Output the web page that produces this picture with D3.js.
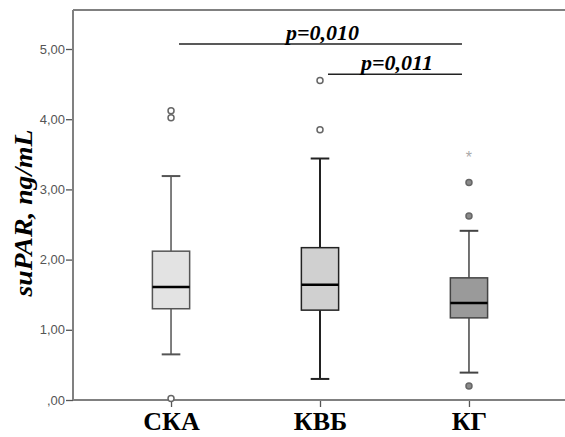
<!DOCTYPE html>
<html>
<head>
<meta charset="utf-8">
<script src="https://cdn.jsdelivr.net/npm/d3@7"></script>
<style>
  body { margin: 0; background: #fff; }
</style>
</head>
<body>
<div id="chart"></div>
<script>
// Data
const groups = ["СКА", "КВБ", "КГ"];
const q1 = [1.30, 1.28, 1.17];
const medians = [1.61, 1.64, 1.38];
const q3 = [2.12, 2.17, 1.74];
const whiskerLow = [0.65, 0.30, 0.39];
const whiskerHigh = [3.19, 3.44, 2.41];
const outliers = [[4.12, 4.02, 0.02], [4.55, 3.85], [3.10, 2.62, 0.20]];
const extremes = [[], [], [3.47]];
const yTicks = [0, 1, 2, 3, 4, 5];
const pairs = [
    { from: "СКА", to: "КГ", level: 5.07, label: "p=0,010" },
    { from: "КВБ", to: "КГ", level: 4.64, label: "p=0,011" }
];

const fills = ["#e3e3e3", "#d0d0d0", "#9a9a9a"];
const strokes = ["#555", "#222", "#444"];

const width = 565, height = 437;
const margin = { top: 10, right: -2, bottom: 37, left: 73 };

const svg = d3.select("#chart")
    .append("svg")
    .attr("width", width)
    .attr("height", height);

// Scales
const x = d3.scalePoint()
    .domain(groups)
    .range([margin.left, width - margin.right])
    .padding(0.658);

const y = d3.scaleLinear()
    .domain([0, 5])
    .range([height - margin.bottom, height - margin.bottom - 351]);

const boxW = x.step() * 0.25;
const capW = boxW / 2;

// Frame: top line, left axis, bottom axis
svg.append("line")
    .attr("x1", margin.left).attr("x2", width + 5)
    .attr("y1", margin.top).attr("y2", margin.top)
    .attr("stroke", "#808080").attr("stroke-width", 2);

const yAxis = svg.append("g")
    .attr("transform", `translate(${margin.left},0)`)
    .call(d3.axisLeft(y).tickValues(yTicks).tickSize(7)
        .tickFormat(d => d === 0 ? ",00" : d3.format(".2f")(d).replace(".", ",")));
yAxis.select(".domain").remove();
yAxis.selectAll(".tick line").attr("stroke", "#555").attr("stroke-width", 1.3);
yAxis.selectAll("text")
    .attr("x", -8)
    .attr("fill", "#555")
    .style("font-family", "'Liberation Sans', Arial, sans-serif")
    .style("font-size", "13px");

svg.append("line")
    .attr("x1", margin.left).attr("x2", margin.left)
    .attr("y1", margin.top).attr("y2", y(0))
    .attr("stroke", "#808080").attr("stroke-width", 2);

const xAxis = svg.append("g")
    .attr("transform", `translate(0,${y(0)})`)
    .call(d3.axisBottom(x).tickSize(7));
xAxis.select(".domain").remove();
xAxis.selectAll(".tick line").attr("stroke", "#555").attr("stroke-width", 1.3);
xAxis.selectAll("text")
    .attr("y", 12)
    .attr("dy", "0.71em")
    .attr("fill", "#000")
    .style("font-family", "'Liberation Serif', 'Times New Roman', serif")
    .style("font-weight", "bold")
    .style("font-size", "26px");

svg.append("line")
    .attr("x1", margin.left).attr("x2", width + 5)
    .attr("y1", y(0)).attr("y2", y(0))
    .attr("stroke", "#808080").attr("stroke-width", 2);

// Y axis title
svg.append("text")
    .attr("transform", `translate(32, ${213}) rotate(-90)`)
    .attr("text-anchor", "middle")
    .attr("textLength", 167)
    .attr("lengthAdjust", "spacingAndGlyphs")
    .style("font-family", "'Liberation Serif', 'Times New Roman', serif")
    .style("font-weight", "bold")
    .style("font-style", "italic")
    .style("font-size", "26px")
    .text("suPAR, ng/mL");

// Boxes
groups.forEach((g, i) => {
    const cx = x(g);
    const box = svg.append("g");
    const sw = i === 1 ? 2 : 1.5;

    box.append("line")
        .attr("x1", cx).attr("x2", cx)
        .attr("y1", y(whiskerHigh[i])).attr("y2", y(q3[i]))
        .attr("stroke", strokes[i]).attr("stroke-width", sw);
    box.append("line")
        .attr("x1", cx).attr("x2", cx)
        .attr("y1", y(q1[i])).attr("y2", y(whiskerLow[i]))
        .attr("stroke", strokes[i]).attr("stroke-width", sw);
    [whiskerHigh[i], whiskerLow[i]].forEach(v => {
        box.append("line")
            .attr("x1", cx - capW / 2).attr("x2", cx + capW / 2)
            .attr("y1", y(v)).attr("y2", y(v))
            .attr("stroke", strokes[i]).attr("stroke-width", 2);
    });
    box.append("rect")
        .attr("x", cx - boxW / 2)
        .attr("y", y(q3[i]))
        .attr("width", boxW)
        .attr("height", y(q1[i]) - y(q3[i]))
        .attr("fill", fills[i])
        .attr("stroke", strokes[i])
        .attr("stroke-width", 1.5);
    box.append("line")
        .attr("x1", cx - boxW / 2).attr("x2", cx + boxW / 2)
        .attr("y1", y(medians[i])).attr("y2", y(medians[i]))
        .attr("stroke", "#000").attr("stroke-width", 2.5);

    box.selectAll(".outlier")
        .data(outliers[i])
        .enter()
        .append("circle")
        .attr("class", "outlier")
        .attr("cx", cx)
        .attr("cy", d => y(d))
        .attr("r", 3)
        .attr("fill", i === 2 ? "#8a8a8a" : "#fff")
        .attr("stroke", "#666")
        .attr("stroke-width", 1.5);

    box.selectAll(".extreme")
        .data(extremes[i])
        .enter()
        .append("text")
        .attr("class", "extreme")
        .attr("x", cx)
        .attr("y", d => y(d) + 7)
        .attr("text-anchor", "middle")
        .attr("fill", "#aaa")
        .style("font-family", "'Liberation Sans', Arial, sans-serif")
        .style("font-size", "16px")
        .text("*");
});

// Significance brackets
pairs.forEach(p => {
    const x1 = x(p.from) + 8, x2 = x(p.to) - 7;
    svg.append("line")
        .attr("x1", x1).attr("x2", x2)
        .attr("y1", y(p.level)).attr("y2", y(p.level))
        .attr("stroke", "#222").attr("stroke-width", 1.5);
    svg.append("text")
        .attr("x", (x1 + x2) / 2 + 2)
        .attr("y", y(p.level) - 4)
        .attr("text-anchor", "middle")
        .style("font-family", "'Liberation Serif', 'Times New Roman', serif")
        .style("font-weight", "bold")
        .style("font-style", "italic")
        .style("font-size", "22px")
        .text(p.label);
});
</script>
</body>
</html>
